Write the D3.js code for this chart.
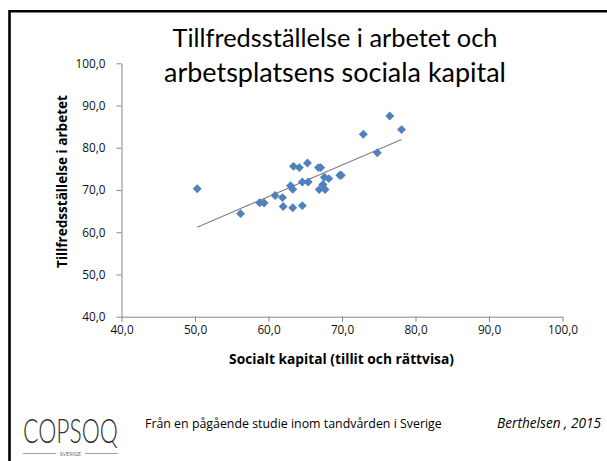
<!DOCTYPE html>
<html><head><meta charset="utf-8">
<script src="https://cdn.jsdelivr.net/npm/d3@7"></script>
<style>body{margin:0;background:#fff}svg{display:block}</style>
</head><body>
<script>
const socialKapital = [50.3,56.2,58.8,59.4,60.9,61.9,62.0,63.3,64.6,63.0,63.3,63.4,64.2,65.3,64.6,65.4,66.8,67.1,67.6,68.2,67.4,66.9,67.7,69.7,69.9,72.9,74.8,76.5,78.1];
const tillfredsstallelse = [70.3,64.4,67.0,66.9,68.7,68.2,66.1,65.8,66.3,71.0,70.2,75.6,75.3,76.4,71.9,71.9,75.3,75.3,73.0,72.7,71.3,70.1,70.1,73.5,73.5,83.2,78.8,87.5,84.3];
const tickValues = [40,50,60,70,80,90,100];
const titleLines = ["Tillfredsställelse  i arbetet och","arbetsplatsens sociala kapital"];
const xTitle = "Socialt kapital (tillit och rättvisa)";
const yTitle = "Tillfredsställelse i arbetet";
const footerText = "Från en pågående studie inom tandvården i Sverige";
const citation = "Berthelsen , 2015";

const W = 607, H = 461;
const svg = d3.select("body").append("svg").attr("width", W).attr("height", H);
const font = "'Open Sans', Lato, sans-serif";
const titleFont = "Lato, 'Open Sans', sans-serif";

function fitSize(sel, target){
  const node = sel.node();
  const fs = parseFloat(node.style.fontSize);
  const w = node.getComputedTextLength();
  return w > 0 ? fs*target/w : fs;
}
function fit(sel, target){
  sel.style("font-size", fitSize(sel, target).toFixed(2)+"px");
  return sel;
}

// frame
svg.append("line").attr("x1",9.5).attr("x2",W).attr("y1",11.3).attr("y2",11.3).attr("stroke","#000").attr("stroke-width",2.6);
svg.append("line").attr("x1",9.5).attr("x2",9.5).attr("y1",10).attr("y2",H).attr("stroke","#000").attr("stroke-width",2.6);

const x = d3.scaleLinear().domain([40,100]).range([121.5,562.5]);
const y = d3.scaleLinear().domain([40,100]).range([316.7,63.3]);
const fmt = d => d3.format(".1f")(d).replace(".", ",");

const gx = svg.append("g").attr("transform",`translate(0,${y(40)})`)
  .call(d3.axisBottom(x).tickValues(tickValues).tickFormat(fmt).tickSize(5).tickPadding(4).tickSizeOuter(0));
const gy = svg.append("g").attr("transform",`translate(${x(40)},0)`)
  .call(d3.axisLeft(y).tickValues(tickValues).tickFormat(fmt).tickSize(5).tickPadding(11).tickSizeOuter(0));
[gx,gy].forEach(g=>{
  g.selectAll("path,line").attr("stroke","#868686");
  g.selectAll("text").attr("fill","#111").style("font-family",font).style("font-size","12px");
});
const longest = gy.selectAll("text").filter(d => d === 100);
const tickFs = fitSize(longest, 30).toFixed(2) + "px";
[gx,gy].forEach(g => g.selectAll("text").style("font-size", tickFs));

// trend line (least squares)
const n = socialKapital.length;
const mx = d3.mean(socialKapital), my = d3.mean(tillfredsstallelse);
let sxy=0,sxx=0;
for(let i=0;i<n;i++){sxy+=(socialKapital[i]-mx)*(tillfredsstallelse[i]-my);sxx+=(socialKapital[i]-mx)**2;}
const b = sxy/sxx, a = my - b*mx;
const [x0,x1] = d3.extent(socialKapital);
svg.append("line").attr("x1",x(x0)).attr("y1",y(a+b*x0)).attr("x2",x(x1)).attr("y2",y(a+b*x1))
  .attr("stroke","#808080").attr("stroke-width",1.1);

// points
const sym = d3.symbol().type(d3.symbolSquare).size(40);
svg.append("g").selectAll("path").data(d3.range(n)).join("path")
  .attr("d",sym)
  .attr("transform",i=>`translate(${x(socialKapital[i])},${y(tillfredsstallelse[i])}) rotate(45)`)
  .attr("fill","#4f81bd");

// title
const titleWidths = [325, 342];
svg.append("g").selectAll("text").data(titleLines).join("text")
  .attr("x",335).attr("y",(d,i)=>47+i*35).attr("text-anchor","middle")
  .style("font-family",titleFont).style("font-size","26px").attr("fill","#000").text(d=>d)
  .each(function(d,i){ fit(d3.select(this), titleWidths[i]); });

// axis titles
fit(svg.append("text").attr("x",341.5).attr("y",364).attr("text-anchor","middle")
  .style("font-family",font).style("font-size","13px").style("font-weight","bold").text(xTitle), 225);
fit(svg.append("text").attr("transform","translate(67,181.5) rotate(-90)").attr("text-anchor","middle")
  .style("font-family",font).style("font-size","13px").style("font-weight","bold").text(yTitle), 173);

// footer logo (condensed thin lettering)
const logo = svg.append("text").attr("text-anchor","middle")
  .style("font-family",titleFont).style("font-size","33px").style("font-weight","300").attr("fill","#333").text("COPSOQ");
const lw = logo.node().getComputedTextLength();
logo.attr("transform",`translate(70.5,443) scale(${(95/lw).toFixed(3)},1)`);
svg.append("text").attr("x",70.5).attr("y",455.5).attr("text-anchor","middle")
  .style("font-family",font).style("font-size","5.5px").attr("fill","#666").text("SVERIGE");
svg.append("line").attr("x1",23).attr("x2",56).attr("y1",453.5).attr("y2",453.5).attr("stroke","#888").attr("stroke-width",0.8);
svg.append("line").attr("x1",85).attr("x2",118).attr("y1",453.5).attr("y2",453.5).attr("stroke","#888").attr("stroke-width",0.8);
fit(svg.append("text").attr("x",145).attr("y",428)
  .style("font-family",font).style("font-size","13px").attr("fill","#000").text(footerText), 297);
fit(svg.append("text").attr("x",601).attr("y",428).attr("text-anchor","end")
  .style("font-family",font).style("font-size","13px").style("font-style","italic").attr("fill","#000").text(citation), 104);
</script>
</body></html>
